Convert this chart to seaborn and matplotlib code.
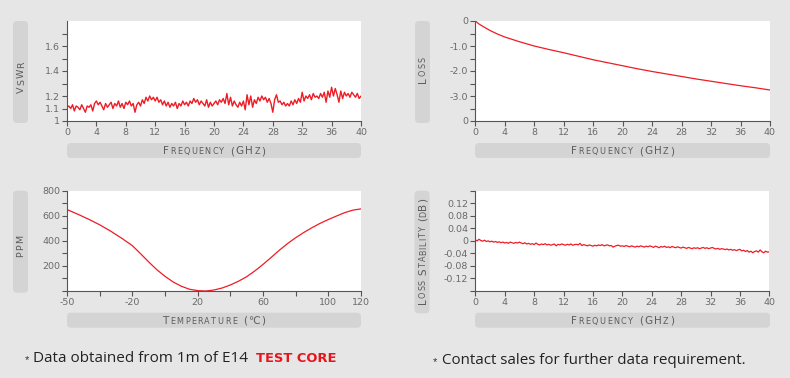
import matplotlib
matplotlib.use("Agg")
import matplotlib.pyplot as plt
from matplotlib.patches import FancyBboxPatch
import numpy as np
import pandas as pd
import seaborn as sns

# ---------------- data ----------------
freq_grid = np.linspace(0, 40, 161)  # 0.25 GHz sampling

vswr = [
    1.11, 1.12, 1.10, 1.13, 1.08, 1.12, 1.11, 1.09, 1.13, 1.10, 1.07, 1.12, 1.11, 1.13, 1.08, 1.14,
    1.16, 1.13, 1.15, 1.12, 1.09, 1.14, 1.11, 1.13, 1.15, 1.10, 1.14, 1.12, 1.16, 1.11, 1.14, 1.10,
    1.15, 1.13, 1.16, 1.12, 1.14, 1.07, 1.13, 1.15, 1.12, 1.17, 1.14, 1.19, 1.16, 1.20, 1.17, 1.19,
    1.16, 1.19, 1.15, 1.17, 1.13, 1.16, 1.12, 1.15, 1.11, 1.14, 1.12, 1.15, 1.10, 1.14, 1.12, 1.16,
    1.13, 1.15, 1.12, 1.16, 1.14, 1.18, 1.15, 1.17, 1.13, 1.16, 1.14, 1.12, 1.17, 1.11, 1.15, 1.12,
    1.14, 1.16, 1.13, 1.17, 1.15, 1.18, 1.14, 1.22, 1.13, 1.19, 1.12, 1.16, 1.13, 1.11, 1.15, 1.12,
    1.16, 1.09, 1.21, 1.13, 1.20, 1.11, 1.17, 1.14, 1.19, 1.16, 1.20, 1.17, 1.19, 1.15, 1.18, 1.14,
    1.07, 1.17, 1.21, 1.15, 1.16, 1.13, 1.15, 1.12, 1.14, 1.12, 1.16, 1.13, 1.17, 1.14, 1.18, 1.15,
    1.23, 1.16, 1.20, 1.18, 1.21, 1.17, 1.22, 1.19, 1.20, 1.18, 1.22, 1.19, 1.23, 1.15, 1.24, 1.19,
    1.27, 1.20, 1.26, 1.21, 1.15, 1.24, 1.18, 1.23, 1.20, 1.22, 1.19, 1.23, 1.21, 1.19, 1.22, 1.18,
    1.20,
]

loss_freq = [0, 0.5, 1, 2, 3, 4, 6, 8, 10, 12, 14, 16, 18, 20, 22, 24, 26, 28, 30, 32, 34, 36, 38, 40]
loss = [0, -0.12, -0.21, -0.38, -0.52, -0.64, -0.83, -1.00, -1.14, -1.27, -1.41, -1.55,
        -1.67, -1.79, -1.91, -2.02, -2.12, -2.22, -2.32, -2.41, -2.50, -2.59, -2.67, -2.76]

temp = [-50, -45, -40, -35, -30, -25, -20, -15, -10, -5, 0, 5, 10, 15, 20, 25, 30, 35, 40,
        45, 50, 55, 60, 65, 70, 75, 80, 85, 90, 95, 100, 105, 110, 115, 120]
ppm = [650, 612, 572, 528, 478, 422, 362, 298, 232, 170, 117, 72, 38, 14, 3, 0, 8, 24, 48,
       78, 114, 160, 212, 268, 325, 378, 425, 467, 505, 540, 570, 598, 625, 645, 655]

stability = [
    0.003, 0.000, 0.005, 0.001, -0.001, 0.002, -0.002, 0.000, -0.003, -0.001, -0.004, -0.002, -0.005, -0.003, -0.006, -0.004,
    -0.007, -0.005, -0.008, -0.004, -0.006, -0.008, -0.005, -0.007, -0.004, -0.007, -0.009, -0.006, -0.010, -0.008, -0.011, -0.009,
    -0.012, -0.007, -0.011, -0.013, -0.010, -0.012, -0.009, -0.013, -0.011, -0.014, -0.012, -0.010, -0.016, -0.011, -0.013, -0.010,
    -0.012, -0.014, -0.011, -0.013, -0.010, -0.014, -0.012, -0.011, -0.013, -0.008, -0.015, -0.012, -0.014, -0.016, -0.013, -0.015,
    -0.017, -0.014, -0.016, -0.013, -0.015, -0.012, -0.016, -0.014, -0.013, -0.016, -0.015, -0.020, -0.017, -0.015, -0.014, -0.017,
    -0.016, -0.018, -0.015, -0.017, -0.019, -0.016, -0.018, -0.020, -0.017, -0.019, -0.016, -0.018, -0.020, -0.017, -0.019, -0.016,
    -0.018, -0.021, -0.017, -0.019, -0.022, -0.018, -0.020, -0.017, -0.021, -0.019, -0.022, -0.018, -0.020, -0.022, -0.019, -0.021,
    -0.023, -0.020, -0.022, -0.024, -0.021, -0.023, -0.025, -0.022, -0.024, -0.022, -0.025, -0.023, -0.021, -0.024, -0.022, -0.025,
    -0.023, -0.021, -0.024, -0.026, -0.024, -0.027, -0.025, -0.026, -0.028, -0.026, -0.029, -0.027, -0.030, -0.028, -0.031, -0.029,
    -0.027, -0.032, -0.030, -0.034, -0.031, -0.036, -0.033, -0.038, -0.034, -0.032, -0.036, -0.029, -0.035, -0.038, -0.033, -0.036,
    -0.035,
]

freq_ticks = [0, 4, 8, 12, 16, 20, 24, 28, 32, 36, 40]
vswr_ticks = [1.0, 1.1, 1.2, 1.3, 1.4, 1.5, 1.6, 1.7]
vswr_labels = ["1", "1.1", "1.2", "", "1.4", "", "1.6", ""]
loss_ticks = [0, -0.5, -1.0, -1.5, -2.0, -2.5, -3.0, -3.5, -4.0]
loss_labels = ["0", "", "-1.0", "", "-2.0", "", "-3.0", "", "0"]
temp_ticks = [-50, -35, -20, 0, 20, 40, 60, 80, 100, 120]
temp_labels = ["-50", "", "-20", "", "20", "", "60", "", "100", "120"]
ppm_ticks = [0, 100, 200, 300, 400, 500, 600, 700, 800]
ppm_labels = ["", "", "200", "", "400", "", "600", "", "800"]
stab_ticks = [-0.16, -0.12, -0.08, -0.04, 0, 0.04, 0.08, 0.12, 0.16]
stab_labels = ["", "-0.12", "-0.08", "-0.04", "0", "0.04", "0.08", "0.12", ""]

# ---------------- style ----------------
sns.set_theme(style="ticks")
plt.rcParams["font.family"] = ["DejaVu Sans"]

BG = "#e6e6e6"
BOX = "#d4d4d4"
LABEL_C = "#5c5c5c"
TICK_C = "#6a6a6a"
AX_C = "#555555"
RED = "#ee1c25"

W, H = 790, 378
fig = plt.figure(figsize=(W / 100, H / 100), dpi=100, facecolor=BG)


def add_ax(l, t, r, b):
    return fig.add_axes([l / W, 1 - b / H, (r - l) / W, (b - t) / H])


def style(ax):
    ax.set_facecolor("white")
    for s in ["top", "right"]:
        ax.spines[s].set_visible(False)
    for s in ["left", "bottom"]:
        ax.spines[s].set_color(AX_C)
        ax.spines[s].set_linewidth(0.8)
    ax.tick_params(direction="out", length=3.5, width=0.8, color=AX_C,
                   labelcolor=TICK_C, labelsize=6.8, pad=1.5)
    ax.set_xlabel("")
    ax.set_ylabel("")
    ax.grid(False)


ax1 = add_ax(67, 21, 361, 121)
ax2 = add_ax(475.3, 21, 770, 121)
ax3 = add_ax(67, 190.7, 361, 291)
ax4 = add_ax(475.3, 190.7, 769.3, 291)

# VSWR
sns.lineplot(x=freq_grid, y=vswr, ax=ax1, color=RED, linewidth=1.0)
ax1.set_xlim(0, 40)
ax1.set_ylim(1.0, 1.8)
ax1.set_xticks(freq_ticks)
ax1.set_yticks(vswr_ticks)
ax1.set_yticklabels(vswr_labels)

# Loss
sns.lineplot(x=loss_freq, y=loss, ax=ax2, color=RED, linewidth=0.9)
ax2.set_xlim(0, 40)
ax2.set_ylim(-4.0, 0)
ax2.set_xticks(freq_ticks)
ax2.set_yticks(loss_ticks)
ax2.set_yticklabels(loss_labels)


# PPM vs temperature (axis spacing of the original is irregular below -20)
def fwd(t):
    t = np.asarray(t, dtype=float)
    return np.where(t < -20, -20 + (t + 20) * 4.0 / 3.0, t)


def inv(u):
    u = np.asarray(u, dtype=float)
    return np.where(u < -20, -20 + (u + 20) * 0.75, u)


ax3.set_xscale("function", functions=(fwd, inv))
sns.lineplot(x=temp, y=ppm, ax=ax3, color=RED, linewidth=0.9)
ax3.set_xlim(-50, 120)
ax3.set_ylim(0, 800)
ax3.set_xticks(temp_ticks)
ax3.set_xticklabels(temp_labels)
ax3.set_yticks(ppm_ticks)
ax3.set_yticklabels(ppm_labels)

# Loss stability
sns.lineplot(x=freq_grid, y=stability, ax=ax4, color=RED, linewidth=0.9)
ax4.set_xlim(0, 40)
ax4.set_ylim(-0.16, 0.16)
ax4.set_xticks(freq_ticks)
ax4.set_yticks(stab_ticks)
ax4.set_yticklabels(stab_labels)

for ax in (ax1, ax2, ax3, ax4):
    style(ax)
    ax.minorticks_off()


# ---------------- label boxes ----------------
def box(l, t, r, b, rad=4):
    p = FancyBboxPatch((l / 100, (H - b) / 100), (r - l) / 100, (b - t) / 100,
                       boxstyle=f"round,pad=0,rounding_size={rad / 100}",
                       transform=fig.dpi_scale_trans, facecolor=BOX,
                       edgecolor="none", zorder=0)
    fig.patches.append(p)


box(67, 143, 361, 158)
box(475, 143, 770, 158)
box(67, 312.7, 361, 327.7)
box(475, 312.7, 770, 327.7)
box(13, 21, 28, 123)
box(415, 21, 430, 123)
box(13, 190.7, 28, 292.7)
box(414.5, 190.7, 429.5, 313.3)

renderer = fig.canvas.get_renderer()
_adv = {}


def advance(ch, size):
    key = (ch, size)
    if key not in _adv:
        t1 = fig.text(0, 0, "|" + ch + "|", fontsize=size)
        t2 = fig.text(0, 0, "||", fontsize=size)
        w = t1.get_window_extent(renderer).width - t2.get_window_extent(renderer).width
        t1.remove()
        t2.remove()
        _adv[key] = w
    return _adv[key]


def smallcaps(s, along, base, big=7.5, small=5.9, rotation=0, track=1.4, color=LABEL_C):
    items = []
    for ch in s:
        size = small if ch.islower() else big
        items.append((ch.upper(), size, advance(ch.upper(), size)))
    total = sum(a for _, _, a in items) + track * (len(items) - 1)
    off = 0.0
    for disp, size, a in items:
        if rotation == 0:
            x = along - total / 2 + off
            fig.text(x / W, 1 - base / H, disp, fontsize=size, color=color,
                     ha="left", va="baseline")
        else:
            y = along + total / 2 - off
            fig.text(base / W, 1 - y / H, disp, fontsize=size, color=color,
                     ha="left", va="baseline", rotation=90, rotation_mode="anchor")
        off += a + track


smallcaps("Frequency (GHz)", 214, 154.3)
smallcaps("Frequency (GHz)", 622.5, 154.3)
smallcaps("Temperature (℃)", 214, 323.7)
smallcaps("Frequency (GHz)", 622.5, 323.7)
smallcaps("VSWR", 77, 24.0, big=6.8, track=1.0, rotation=90)
smallcaps("Loss", 70, 426.0, rotation=90)
smallcaps("PPM", 246, 23.5, big=6.8, track=1.0, rotation=90)
smallcaps("Loss Stability (dB)", 251, 426.0, track=0.8, rotation=90)

# ---------------- footnotes ----------------
FOOT = ["Open Sans", "DejaVu Sans"]
fig.text(25 / W, 1 - 363 / H, "*", fontsize=8, color="#333333", family="Liberation Sans")
fig.text(33 / W, 1 - 362.5 / H, "Data obtained from 1m of E14", fontsize=11,
         color="#222222", family=FOOT, va="baseline")
fig.text(255.5 / W, 1 - 362.5 / H, "TEST CORE", fontsize=9.4, color="#e8141c",
         family="DejaVu Sans", weight="bold", va="baseline")
fig.text(432.5 / W, 1 - 365 / H, "*", fontsize=8, color="#333333", family="Liberation Sans")
fig.text(441.5 / W, 1 - 364.3 / H, "Contact sales for further data requirement.", fontsize=10.9,
         color="#222222", family=FOOT, va="baseline")

fig.savefig("out.png", dpi=100, facecolor=BG)
